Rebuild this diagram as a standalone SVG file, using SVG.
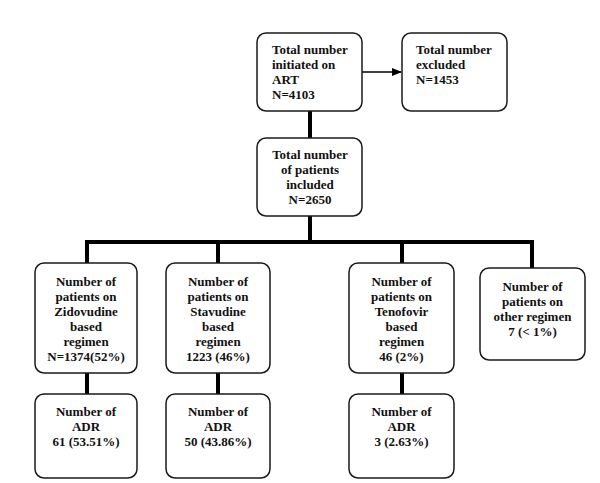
<svg xmlns="http://www.w3.org/2000/svg" width="600" height="483" viewBox="0 0 600 483">
<style>
.box{fill:#fff;stroke:#1a1a1a;stroke-width:1.5}
.t{font-family:"Liberation Serif","Times New Roman",serif;font-size:13px;font-weight:bold;fill:#111}
.c{text-anchor:middle}
.thick{stroke:#000;stroke-width:4;fill:none}
.thin{stroke:#000;stroke-width:1.5;fill:none}
</style>
<defs>
<marker id="ah" markerWidth="10" markerHeight="10" refX="9" refY="5" orient="auto" markerUnits="userSpaceOnUse">
<path d="M0,1 L10,5 L0,9 Z" fill="#000"/>
</marker>
</defs>
<rect width="600" height="483" fill="#fff"/>
<g id="connectors">
<line class="thin" x1="362" y1="72" x2="401" y2="72" marker-end="url(#ah)"/>
<line class="thick" x1="310" y1="111" x2="310" y2="138"/>
<line class="thick" x1="310" y1="216" x2="310" y2="242"/>
<polyline class="thick" points="87,263 87,242 532,242 532,268"/>
<line class="thick" x1="218" y1="242" x2="218" y2="263"/>
<line class="thick" x1="402" y1="242" x2="402" y2="263"/>
<line class="thick" x1="87" y1="373" x2="87" y2="394"/>
<line class="thick" x1="218" y1="373" x2="218" y2="394"/>
<line class="thick" x1="402" y1="373" x2="402" y2="394"/>
</g>
<g id="n-initiated">
<rect class="box" x="257" y="33" width="105" height="78" rx="9"/>
<text class="t" x="272" y="54">Total number</text>
<text class="t" x="272" y="69">initiated on</text>
<text class="t" x="272" y="84">ART</text>
<text class="t" x="272" y="99">N=4103</text>
</g>
<g id="n-excluded">
<rect class="box" x="402" y="33" width="105" height="78" rx="9"/>
<text class="t" x="416" y="54">Total number</text>
<text class="t" x="416" y="69">excluded</text>
<text class="t" x="416" y="84">N=1453</text>
</g>
<g id="n-included">
<rect class="box" x="257" y="138" width="105" height="78" rx="9"/>
<text class="t c" x="310" y="159">Total number</text>
<text class="t c" x="310" y="174">of patients</text>
<text class="t c" x="310" y="189">included</text>
<text class="t c" x="310" y="204">N=2650</text>
</g>
<g id="n-zidovudine">
<rect class="box" x="35" y="263" width="102" height="110" rx="9"/>
<text class="t c" x="86" y="285.5">Number of</text>
<text class="t c" x="86" y="300.5">patients on</text>
<text class="t c" x="86" y="315.5">Zidovudine</text>
<text class="t c" x="86" y="330.5">based</text>
<text class="t c" x="86" y="345.5">regimen</text>
<text class="t c" x="86" y="360.5">N=1374(52%)</text>
</g>
<g id="n-stavudine">
<rect class="box" x="166" y="263" width="104" height="110" rx="9"/>
<text class="t c" x="218" y="285.5">Number of</text>
<text class="t c" x="218" y="300.5">patients on</text>
<text class="t c" x="218" y="315.5">Stavudine</text>
<text class="t c" x="218" y="330.5">based</text>
<text class="t c" x="218" y="345.5">regimen</text>
<text class="t c" x="218" y="360.5">1223 (46%)</text>
</g>
<g id="n-tenofovir">
<rect class="box" x="349" y="263" width="105" height="110" rx="9"/>
<text class="t c" x="401.5" y="285.5">Number of</text>
<text class="t c" x="401.5" y="300.5">patients on</text>
<text class="t c" x="401.5" y="315.5">Tenofovir</text>
<text class="t c" x="401.5" y="330.5">based</text>
<text class="t c" x="401.5" y="345.5">regimen</text>
<text class="t c" x="401.5" y="360.5">46 (2%)</text>
</g>
<g id="n-other">
<rect class="box" x="480" y="268" width="105" height="92" rx="9"/>
<text class="t c" x="532.5" y="290.5">Number of</text>
<text class="t c" x="532.5" y="305.5">patients on</text>
<text class="t c" x="532.5" y="320.5">other regimen</text>
<text class="t c" x="532.5" y="335.5">7 (&lt; 1%)</text>
</g>
<g id="n-adr-z">
<rect class="box" x="35" y="394" width="102" height="84" rx="9"/>
<text class="t c" x="86" y="415.5">Number of</text>
<text class="t c" x="86" y="430.5">ADR</text>
<text class="t c" x="86" y="445.5">61 (53.51%)</text>
</g>
<g id="n-adr-s">
<rect class="box" x="166" y="394" width="104" height="84" rx="9"/>
<text class="t c" x="218" y="415.5">Number of</text>
<text class="t c" x="218" y="430.5">ADR</text>
<text class="t c" x="218" y="445.5">50 (43.86%)</text>
</g>
<g id="n-adr-t">
<rect class="box" x="349" y="394" width="105" height="84" rx="9"/>
<text class="t c" x="401.5" y="415.5">Number of</text>
<text class="t c" x="401.5" y="430.5">ADR</text>
<text class="t c" x="401.5" y="445.5">3 (2.63%)</text>
</g>
</svg>
